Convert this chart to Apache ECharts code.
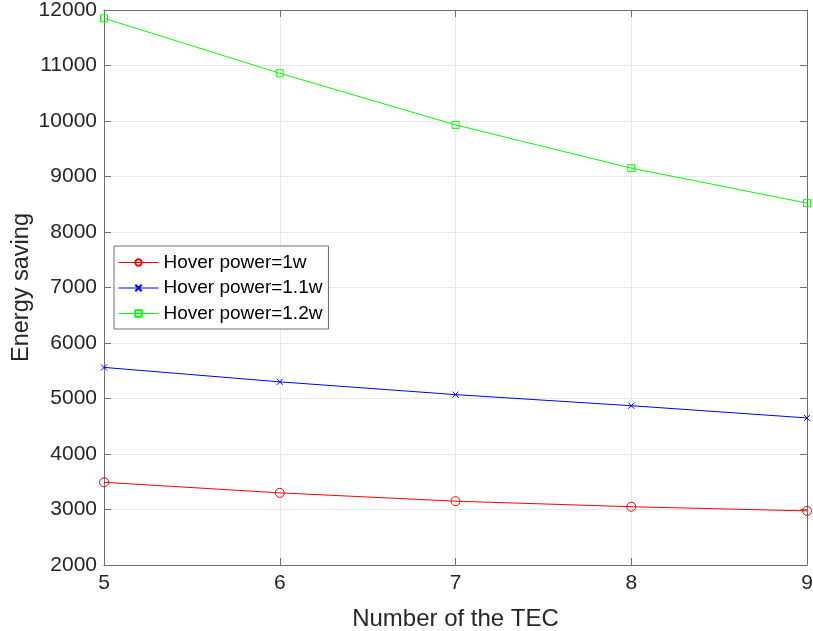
<!DOCTYPE html>
<html><head><meta charset="utf-8">
<script src="https://cdn.jsdelivr.net/npm/echarts@6/dist/echarts.min.js"></script>
<style>html,body{margin:0;padding:0;background:#fff}#c{width:813px;height:631px}</style>
</head><body><div id="c"></div>
<script>
const tecCounts = [5, 6, 7, 8, 9];
const hover1w = [3490, 3300, 3150, 3050, 2975];
const hover11w = [5560, 5300, 5070, 4870, 4650];
const hover12w = [11850, 10860, 9930, 9150, 8520];
const seriesNames = ['Hover power=1w', 'Hover power=1.1w', 'Hover power=1.2w'];

const chart = echarts.init(document.getElementById('c'));
const font = 'Liberation Sans, Arial, Helvetica, sans-serif';
const textCol = '#262626';
const lineCol = '#6e6e6e';
const pair = (xs, ys) => xs.map((x, i) => [x, ys[i]]);
const crossPath = 'path://M0,0L10,10M10,0L0,10';
const circlePath = 'path://M10,5A5,5 0 1,1 0,5A5,5 0 1,1 10,5Z';
const rectPath = 'path://M0,0L10,0L10,10L0,10Z';
const noFill = 'rgba(255,255,255,0)';

chart.setOption({
  animation: false,
  grid: {left: 104, top: 10, right: 6, bottom: 66, containLabel: false, outerBoundsMode: 'none'},
  legend: {
    orient: 'vertical', left: 114, top: 246,
    itemWidth: 40, itemHeight: 8, itemGap: 6.5,
    padding: [7, 6, 6, 4],
    backgroundColor: '#fff', borderColor: lineCol, borderWidth: 1,
    textStyle: {fontFamily: font, fontSize: 19, color: '#000'},
    lineStyle: {width: 1},
    data: seriesNames
  },
  xAxis: [{
    type: 'value', min: 5, max: 9, interval: 1,
    name: 'Number of the TEC', nameLocation: 'middle', nameGap: 42,
    nameTextStyle: {fontFamily: font, fontSize: 24, color: textCol},
    axisLine: {lineStyle: {color: lineCol}},
    axisTick: {inside: true, length: 7, lineStyle: {color: lineCol}},
    axisLabel: {fontFamily: font, fontSize: 21, color: textCol, margin: 8, formatter: v => String(v)},
    splitLine: {show: true, lineStyle: {color: '#e8e8e8'}}
  }, {
    type: 'value', position: 'top', min: 5, max: 9, interval: 1,
    axisLine: {show: true, lineStyle: {color: lineCol}},
    axisTick: {inside: true, length: 7, lineStyle: {color: lineCol}},
    axisLabel: {show: false}, splitLine: {show: false}
  }],
  yAxis: [{
    type: 'value', min: 2000, max: 12000, interval: 1000,
    name: 'Energy saving', nameLocation: 'middle', nameGap: 70, nameRotate: 90,
    nameMoveOverlap: false,
    nameTextStyle: {fontFamily: font, fontSize: 23.5, color: textCol},
    axisLine: {show: true, lineStyle: {color: lineCol}},
    axisTick: {show: true, inside: true, length: 7, lineStyle: {color: lineCol}},
    axisLabel: {fontFamily: font, fontSize: 21, color: textCol, margin: 7, formatter: v => String(v)},
    splitLine: {show: true, lineStyle: {color: '#e8e8e8'}}
  }, {
    type: 'value', position: 'right', min: 2000, max: 12000, interval: 1000,
    axisLine: {show: true, lineStyle: {color: lineCol}},
    axisTick: {show: true, inside: true, length: 7, lineStyle: {color: lineCol}},
    axisLabel: {show: false}, splitLine: {show: false}
  }],
  series: [{
    name: seriesNames[0], type: 'line', data: pair(tecCounts, hover1w),
    symbol: circlePath, symbolSize: 9,
    lineStyle: {color: '#ff0000', width: 1},
    itemStyle: {color: noFill, borderColor: '#ff0000', borderWidth: 1}
  }, {
    name: seriesNames[1], type: 'line', data: pair(tecCounts, hover11w),
    symbol: crossPath, symbolSize: 6,
    lineStyle: {color: '#0000ff', width: 1},
    itemStyle: {color: noFill, borderColor: '#0000ff', borderWidth: 1}
  }, {
    name: seriesNames[2], type: 'line', data: pair(tecCounts, hover12w),
    symbol: rectPath, symbolSize: 7,
    lineStyle: {color: '#00ff00', width: 1},
    itemStyle: {color: noFill, borderColor: '#00ff00', borderWidth: 1}
  }]
});
</script></body></html>
